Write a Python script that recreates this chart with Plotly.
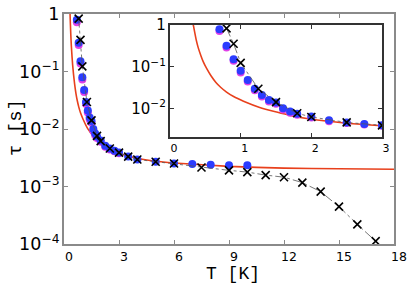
import plotly.graph_objects as go

# ---- data ----
T_fit = [0.30, 0.33, 0.37, 0.40, 0.44, 0.47, 0.52, 0.58, 0.65, 0.72, 0.80, 0.90, 1.04, 1.27,
         1.51, 1.70, 1.98, 2.5, 3.0, 4.0, 5.0, 6.0, 9.0, 12.0, 15.0, 18.0]
tau_fit = [1.86, 1.0, 0.447, 0.282, 0.178, 0.132, 0.0891, 0.0603, 0.0417, 0.0316, 0.0245,
           0.0191, 0.0148, 0.0105, 0.00813, 0.00676, 0.00550, 0.00437, 0.00380, 0.00309,
           0.00275, 0.00257, 0.00224, 0.00209, 0.00204, 0.00200]

T_blue = [0.7, 0.8, 0.9, 1.0, 1.1, 1.2, 1.3, 1.4, 1.5, 1.6, 1.7, 1.8, 2.0, 2.25, 2.5, 2.75,
          3.0, 3.5, 4.0, 5.0, 6.0, 7.0, 8.0, 9.0, 10.0]
tau_blue = [0.794, 0.316, 0.151, 0.0794, 0.0479, 0.0295, 0.0209, 0.0158, 0.0138, 0.0100,
            0.00832, 0.00741, 0.00631, 0.00513, 0.00457, 0.00417, 0.00389, 0.00331, 0.00295,
            0.00269, 0.00251, 0.00245, 0.00240, 0.00234, 0.00234]

T_mag = [0.7, 0.8, 0.9, 1.0, 1.1, 1.2, 1.3, 1.4, 1.5, 1.6, 1.7, 1.8, 2.0, 2.25, 2.5, 2.75, 3.0]
tau_mag = [0.72, 0.29, 0.138, 0.0727, 0.0440, 0.0271, 0.0193, 0.0146, 0.0128, 0.0093, 0.0078,
           0.0070, 0.0060, 0.0049, 0.0044, 0.0041, 0.0038]

T_x = [0.8, 0.9, 1.0, 1.25, 1.5, 1.8, 2.0, 2.5, 3.0, 3.5, 4.0, 5.0, 6.0, 7.5, 9.0, 10.0, 11.0,
       12.0, 13.0, 14.0, 15.0, 16.0, 17.0]
tau_x = [0.832, 0.355, 0.123, 0.0295, 0.0141, 0.00759, 0.00617, 0.00457, 0.00389, 0.00331,
         0.00295, 0.00269, 0.00251, 0.00214, 0.00191, 0.00178, 0.00158, 0.00145, 0.00117,
         0.000813, 0.000447, 0.000219, 0.000112]

main_xticks = [0, 3, 6, 9, 12, 15, 18]
inset_xticks = [0, 1, 2, 3]

W, H = 415, 287
RED = "#e8401c"
BLUE = "#2b3cff"
MAG = "#e040e8"

fig = go.Figure()

for xa, ya, ms in (("x", "y", 8), ("x2", "y2", 8)):
    fig.add_trace(go.Scatter(x=T_fit, y=tau_fit, mode="lines",
                             line=dict(color=RED, width=1.6, shape="spline", smoothing=0.6),
                             xaxis=xa, yaxis=ya, showlegend=False))
    fig.add_trace(go.Scatter(x=T_mag, y=tau_mag, mode="markers", marker=dict(color=MAG, size=ms),
                             xaxis=xa, yaxis=ya, showlegend=False))
    fig.add_trace(go.Scatter(x=T_blue, y=tau_blue, mode="markers", marker=dict(color=BLUE, size=ms),
                             xaxis=xa, yaxis=ya, showlegend=False))
    fig.add_trace(go.Scatter(x=T_x, y=tau_x, mode="lines+markers",
                             line=dict(color="#555555", width=0.8, dash="dashdot"),
                             marker=dict(symbol="x-thin", size=8, line=dict(color="black", width=1.6)),
                             xaxis=xa, yaxis=ya, showlegend=False))

def px(xp):
    return xp / W

def py(yp):
    return (H - yp) / H

axis_common = dict(showgrid=False, zeroline=False, ticks="inside", mirror="ticks",
                   showline=True, automargin=False)

fig.update_layout(
    width=W, height=H,
    margin=dict(l=0, r=0, t=0, b=0, autoexpand=False),
    paper_bgcolor="white", plot_bgcolor="white",
    font=dict(family="DejaVu Sans", color="black"),
    xaxis=dict(domain=[px(64), px(394)], range=[0, 18], tickvals=main_xticks,
               linecolor="#8a8a8a", linewidth=1.5, ticklen=4, tickcolor="#8a8a8a",
               tickfont=dict(size=12.5), ticklabelshift=5, anchor="y", **axis_common),
    yaxis=dict(domain=[py(244), py(14)], type="log", range=[-4, 0], dtick=1,
               exponentformat="power", linecolor="#8a8a8a", linewidth=1.5, ticklen=4,
               tickcolor="#8a8a8a", tickfont=dict(size=14), anchor="x", **axis_common),
    xaxis2=dict(domain=[px(170), px(382)], range=[0, 3], tickvals=inset_xticks,
                linecolor="#333333", linewidth=1.5, ticklen=4, tickcolor="#333333",
                tickfont=dict(size=11), ticklabelshift=4, anchor="y2", **axis_common),
    yaxis2=dict(domain=[py(137), py(25)], type="log", range=[-2.69, 0], dtick=1,
                exponentformat="power", linecolor="#333333", linewidth=1.5, ticklen=4,
                tickcolor="#333333", tickfont=dict(size=12), anchor="x2", **axis_common),
    annotations=[
        dict(text="T [K]", x=px(233), y=py(274), xref="paper", yref="paper", showarrow=False,
             font=dict(family="Liberation Mono", size=18), xanchor="center", yanchor="middle"),
        dict(text="τ [s]", x=px(16), y=py(128), xref="paper", yref="paper", showarrow=False,
             textangle=-90, font=dict(family="Liberation Mono", size=19),
             xanchor="center", yanchor="middle"),
    ],
)

fig.write_html("out.html", config={"displayModeBar": False},
               post_script="document.body.style.margin='0';")
